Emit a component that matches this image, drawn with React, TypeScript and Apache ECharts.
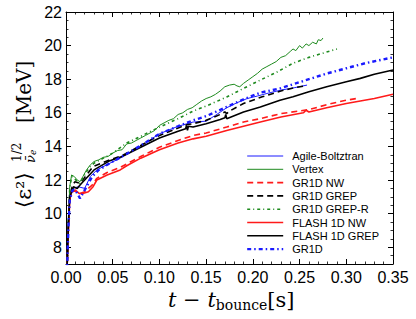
import React, { useEffect, useRef } from "react";
import * as echarts from "echarts";

const seriesNames = [
  "Agile-Boltztran",
  "Vertex",
  "GR1D NW",
  "GR1D GREP",
  "GR1D GREP-R",
  "FLASH 1D NW",
  "FLASH 1D GREP",
  "GR1D",
];

const xTicks = [0, 0.35, 0.05];
const yTicks = [7, 22];

const agile: [number, number][] = [
  [0.001, 6.5], [0.0025, 9.0], [0.004, 10.8], [0.0075, 11.5], [0.013, 11.6], [0.02, 11.5],
  [0.026, 12.2], [0.033, 12.6], [0.047, 13.0], [0.058, 13.3], [0.07, 13.7], [0.085, 14.2],
  [0.1, 14.75], [0.12, 15.2], [0.136, 15.45], [0.15, 15.5], [0.16, 15.85], [0.172, 16.3],
  [0.183, 16.6], [0.194, 16.85], [0.205, 17.0], [0.215, 17.15], [0.23, 17.35], [0.245, 17.5],
  [0.258, 17.65],
];

const vertex: [number, number][] = [
  [0.001, 6.5], [0.0025, 9.5], [0.004, 11.6], [0.006, 12.3], [0.009, 12.2], [0.012, 12.0],
  [0.015, 11.9], [0.018, 12.2], [0.022, 12.6], [0.026, 12.9], [0.03, 13.1], [0.035, 13.2],
  [0.04, 13.35], [0.045, 13.4], [0.05, 13.6], [0.055, 13.75], [0.06, 13.8], [0.065, 14.15],
  [0.07, 14.2], [0.075, 14.35], [0.08, 14.5], [0.085, 14.65], [0.09, 14.8], [0.095, 14.95],
  [0.1, 15.25], [0.105, 15.4], [0.11, 15.55], [0.115, 15.65], [0.12, 15.9], [0.125, 16.0],
  [0.13, 16.2], [0.135, 16.3], [0.14, 16.5], [0.145, 16.7], [0.15, 16.85], [0.155, 16.95],
  [0.16, 17.1], [0.165, 17.3], [0.17, 17.55], [0.175, 17.65], [0.18, 17.7], [0.183, 17.6],
  [0.186, 17.55], [0.19, 17.75], [0.195, 17.95], [0.2, 18.15], [0.205, 18.35], [0.21, 18.6],
  [0.215, 18.75], [0.22, 18.9], [0.225, 19.05], [0.23, 19.3], [0.235, 19.4], [0.24, 19.65],
  [0.243, 19.8], [0.246, 19.7], [0.25, 20.0], [0.253, 19.85], [0.257, 20.1], [0.26, 20.0],
  [0.264, 20.2], [0.268, 20.1], [0.27, 20.35], [0.273, 20.3], [0.275, 20.45],
];

const gr1dNW: [number, number][] = [
  [0.001, 6.5], [0.0025, 9.0], [0.004, 10.9], [0.006, 11.3], [0.01, 11.35], [0.015, 11.2],
  [0.02, 11.3], [0.028, 11.7], [0.033, 12.1], [0.044, 12.45], [0.058, 12.75], [0.08, 13.4],
  [0.1, 13.95], [0.12, 14.35], [0.136, 14.65], [0.15, 14.8], [0.172, 15.15], [0.19, 15.45],
  [0.208, 15.65], [0.23, 15.95], [0.261, 16.2], [0.28, 16.5], [0.3, 16.75], [0.311, 16.85],
];

const gr1dGREP: [number, number][] = [
  [0.001, 6.5], [0.0025, 9.3], [0.004, 11.0], [0.007, 11.7], [0.0096, 11.9], [0.015, 11.8],
  [0.022, 12.3], [0.029, 12.8], [0.047, 13.2], [0.06, 13.45], [0.08, 14.05], [0.1, 14.65],
  [0.12, 15.1], [0.13, 15.3], [0.136, 15.35], [0.15, 15.55], [0.165, 15.9], [0.17, 16.05],
  [0.172, 15.95], [0.175, 16.1], [0.19, 16.55], [0.21, 16.95], [0.23, 17.3], [0.245, 17.5],
  [0.256, 17.6],
];

const gr1dGREPR: [number, number][] = [
  [0.001, 6.5], [0.0025, 9.5], [0.004, 11.5], [0.006, 12.2], [0.009, 12.1], [0.012, 11.9],
  [0.015, 11.8], [0.018, 12.1], [0.022, 12.5], [0.026, 12.8], [0.03, 13.0], [0.04, 13.3],
  [0.05, 13.6], [0.065, 14.2], [0.08, 14.6], [0.1, 15.15], [0.12, 15.65], [0.136, 16.1],
  [0.15, 16.4], [0.172, 16.94], [0.19, 17.45], [0.208, 17.95], [0.225, 18.4], [0.243, 18.95],
  [0.26, 19.3], [0.275, 19.55], [0.29, 19.8],
];

const flashNW: [number, number][] = [
  [0.001, 6.5], [0.0025, 9.0], [0.004, 10.8], [0.006, 11.3], [0.01, 11.4], [0.014, 11.2],
  [0.018, 11.2], [0.024, 11.3], [0.029, 11.6], [0.033, 12.0], [0.044, 12.3], [0.058, 12.6],
  [0.065, 12.85], [0.08, 13.3], [0.1, 13.8], [0.12, 14.2], [0.136, 14.45], [0.15, 14.6],
  [0.172, 14.95], [0.19, 15.2], [0.208, 15.45], [0.23, 15.75], [0.254, 16.0], [0.257, 16.15],
  [0.26, 16.05], [0.279, 16.3], [0.3, 16.55], [0.315, 16.7], [0.33, 16.85], [0.35, 17.1],
];

const flashGREP: [number, number][] = [
  [0.001, 6.5], [0.0025, 9.3], [0.004, 11.0], [0.008, 11.6], [0.012, 11.5], [0.015, 11.7],
  [0.02, 12.0], [0.03, 12.6], [0.047, 13.15], [0.06, 13.4], [0.08, 13.95], [0.1, 14.5],
  [0.12, 14.9], [0.128, 15.05], [0.129, 15.25], [0.13, 14.95], [0.131, 15.2], [0.136, 15.15],
  [0.15, 15.35], [0.165, 15.6], [0.17, 15.7], [0.171, 15.9], [0.172, 15.65], [0.19, 16.05],
  [0.208, 16.35], [0.229, 16.75], [0.243, 16.95], [0.26, 17.25], [0.279, 17.55], [0.3, 17.85],
  [0.315, 18.05], [0.33, 18.3], [0.35, 18.55],
];

const gr1d: [number, number][] = [
  [0.001, 6.5], [0.0025, 9.0], [0.004, 10.8], [0.007, 11.4], [0.01, 11.4], [0.015, 10.9],
  [0.02, 11.4], [0.028, 12.2], [0.035, 12.6], [0.047, 13.0], [0.06, 13.4], [0.08, 14.05],
  [0.1, 14.75], [0.12, 15.2], [0.136, 15.55], [0.15, 15.8], [0.172, 16.35], [0.19, 16.8],
  [0.208, 17.2], [0.229, 17.45], [0.243, 17.7], [0.26, 18.0], [0.28, 18.35], [0.3, 18.65],
  [0.32, 18.95], [0.35, 19.3],
];

const seriesData = [agile, vertex, gr1dNW, gr1dGREP, gr1dGREPR, flashNW, flashGREP, gr1d];

const seriesStyles: any[] = [
  { color: "#1a1aff", width: 1, type: "solid" },
  { color: "#1e8a1e", width: 1, type: "solid" },
  { color: "#ff1a1a", width: 1.6, type: [6, 4] },
  { color: "#000000", width: 1.6, type: [6, 4] },
  { color: "#1e8a1e", width: 1.6, type: [3, 3, 1, 3] },
  { color: "#ff1a1a", width: 1.6, type: "solid" },
  { color: "#000000", width: 1.6, type: "solid" },
  { color: "#1a1aff", width: 2.4, type: [4, 3, 1.5, 3] },
];

export default function App() {
  const ref = useRef<HTMLDivElement>(null);
  useEffect(() => {
    document.body.style.margin = "0";
    const chart = echarts.init(ref.current!, null, { renderer: "svg" });
    const axisLine = { show: true, onZero: false, lineStyle: { color: "#000", width: 1 } };
    const tick = { show: true, inside: true, length: 5, lineStyle: { color: "#000", width: 1 } };
    const minorY = { show: true, splitNumber: 4, length: 2.5, lineStyle: { color: "#000", width: 0.8 } };
    const minorX = { show: true, splitNumber: 5, length: 2.5, lineStyle: { color: "#000", width: 0.8 } };
    const labelFont = { fontFamily: "Liberation Sans", fontSize: 16, color: "#000" };
    const xBase = {
      type: "value",
      min: xTicks[0],
      max: xTicks[1],
      interval: xTicks[2],
      axisLine,
      axisTick: tick,
      minorTick: minorX,
      splitLine: { show: false },
      minorSplitLine: { show: false },
    };
    const yBase = {
      type: "value",
      min: yTicks[0],
      max: yTicks[1],
      splitNumber: 7,
      minInterval: 2,
      maxInterval: 2,
      axisLine,
      axisTick: tick,
      minorTick: minorY,
      splitLine: { show: false },
      minorSplitLine: { show: false },
    };
    chart.setOption({
      animation: false,
      backgroundColor: "#fff",
      grid: { left: 66, right: 23, top: 12, bottom: 55, containLabel: false, outerBoundsMode: "none" },
      xAxis: [
        {
          ...xBase,
          position: "bottom",
          axisLabel: {
            ...labelFont,
            margin: 5,
            showMinLabel: true,
            showMaxLabel: true,
            formatter: (v: number) => v.toFixed(2),
          },
        },
        { ...xBase, position: "top", axisLabel: { show: false } },
      ],
      yAxis: [
        {
          ...yBase,
          position: "left",
          axisLabel: {
            ...labelFont,
            margin: 4,
            formatter: (v: number) => (Math.abs(v - 7) < 1e-6 ? "" : String(v)),
          },
        },
        { ...yBase, position: "right", axisLabel: { show: false } },
      ],
      legend: {
        orient: "vertical",
        left: 246,
        top: 150,
        padding: 0,
        itemWidth: 36,
        itemHeight: 8,
        itemGap: 1.3,
        data: seriesNames.map((name, i) => ({
          name,
          lineStyle: { ...seriesStyles[i] },
        })),
        itemStyle: { opacity: 0 },
        textStyle: {
          fontFamily: "Liberation Sans",
          fontSize: 11,
          lineHeight: 12,
          color: "#000",
          padding: [0, 0, 0, 4],
        },
      },
      series: seriesNames.map((name, i) => ({
        name,
        type: "line",
        data: seriesData[i],
        symbol: "none",
        showSymbol: false,
        clip: true,
        lineStyle: seriesStyles[i],
        itemStyle: { color: seriesStyles[i].color },
        z: 2,
      })),
      graphic: [
        {
          type: "group",
          x: 24,
          y: 139,
          rotation: Math.PI / 2,
          children: [
            {
              type: "text",
              x: -69,
              y: 0,
              style: {
                text: "⟨ε²⟩",
                fontFamily: "DejaVu Serif",
                fontSize: 21,
                fill: "#000",
                align: "left",
                verticalAlign: "middle",
              },
            },
            {
              type: "text",
              x: -23,
              y: -7,
              style: {
                text: "1/2",
                fontFamily: "DejaVu Serif",
                fontSize: 12,
                fill: "#000",
                align: "left",
                verticalAlign: "middle",
              },
            },
            {
              type: "text",
              x: -24,
              y: 6,
              style: {
                text: "ν̄",
                fontFamily: "DejaVu Serif",
                fontStyle: "italic",
                fontSize: 13,
                fill: "#000",
                align: "left",
                verticalAlign: "middle",
              },
            },
            {
              type: "text",
              x: -16,
              y: 9,
              style: {
                text: "e",
                fontFamily: "DejaVu Serif",
                fontStyle: "italic",
                fontSize: 9,
                fill: "#000",
                align: "left",
                verticalAlign: "middle",
              },
            },
            {
              type: "text",
              x: 16,
              y: 0,
              style: {
                text: "[MeV]",
                fontFamily: "DejaVu Serif",
                fontSize: 20,
                fill: "#000",
                align: "left",
                verticalAlign: "middle",
              },
            },
          ],
        },
        {
          type: "text",
          x: 168,
          y: 300,
          style: {
            text: "{i|t}{n| − }{i|t}{s|bounce}{n|[s]}",
            align: "left",
            verticalAlign: "middle",
            fill: "#000",
            rich: {
              i: { fontFamily: "DejaVu Serif", fontStyle: "italic", fontSize: 21, lineHeight: 24 },
              n: { fontFamily: "DejaVu Serif", fontSize: 21, lineHeight: 24 },
              s: { fontFamily: "DejaVu Serif", fontSize: 14, lineHeight: 14, verticalAlign: "bottom" },
            },
          },
        },
      ],
    });
    return () => chart.dispose();
  }, []);
  return (
    <div
      ref={ref}
      style={{ width: 416, height: 319, position: "absolute", left: 0, top: 0 }}
    />
  );
}
